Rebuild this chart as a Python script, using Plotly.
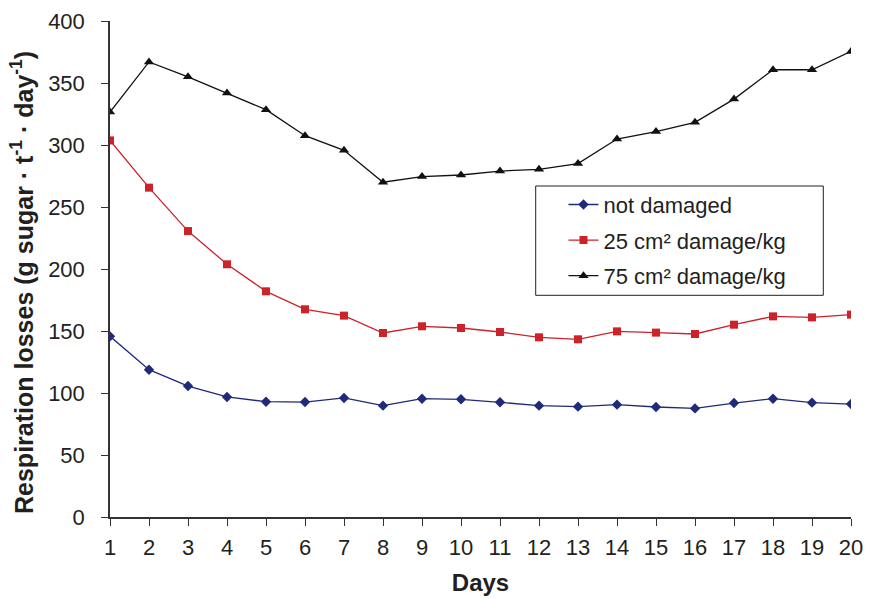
import plotly.graph_objects as go

# Data
days = list(range(1, 21))
not_damaged = [145.7, 118.8, 105.6, 96.8, 93.0, 92.7, 96.0, 89.8, 95.4, 94.9,
               92.5, 89.8, 89.0, 90.6, 88.7, 87.6, 91.9, 95.4, 92.2, 91.1]
damage_25 = [303.7, 265.6, 230.6, 203.8, 182.0, 167.5, 162.4, 148.4, 153.8, 152.4,
             149.2, 144.9, 143.3, 149.7, 148.7, 147.6, 155.1, 161.8, 161.0, 163.2]
damage_75 = [326.6, 367.0, 355.0, 342.0, 328.5, 307.5, 295.7, 270.0, 274.5, 275.8,
             279.0, 280.4, 285.0, 304.8, 310.8, 318.3, 337.0, 360.7, 360.7, 375.5]
y_ticks = [0, 50, 100, 150, 200, 250, 300, 350, 400]

font_family = "Liberation Sans, Arial, sans-serif"
text_color = "#231f20"

fig_w, fig_h = 869, 599
left, top, plot_w, plot_h = 110, 21, 741, 496

fig = go.Figure()

fig.add_trace(go.Scatter(
    x=days, y=not_damaged, name="not damaged", mode="lines+markers",
    line=dict(color="#1f2a7a", width=1.3),
    marker=dict(symbol="diamond", size=8, color="#1f2a7a"),
    legendgroup="a"
))
fig.add_trace(go.Scatter(
    x=days, y=damage_25, name="25 cm² damage/kg", mode="lines+markers",
    line=dict(color="#cc2229", width=1.3),
    marker=dict(symbol="square", size=8, color="#cc2229"),
    legendgroup="b"
))
fig.add_trace(go.Scatter(
    x=days, y=damage_75, name="75 cm² damage/kg", mode="lines+markers",
    line=dict(color="#111111", width=1.3),
    marker=dict(symbol="triangle-up", size=9, color="#111111"),
    legendgroup="c"
))

fig.update_layout(
    width=fig_w, height=fig_h,
    margin=dict(l=left, r=fig_w - left - plot_w, t=top, b=fig_h - top - plot_h),
    paper_bgcolor="white", plot_bgcolor="white",
    font=dict(family=font_family, size=22, color=text_color),
    showlegend=True,
    legend=dict(
        x=0.612, y=0.672, xanchor="left", yanchor="top",
        bgcolor="rgba(0,0,0,0)", borderwidth=0,
        traceorder="grouped", tracegroupgap=4,
        font=dict(size=22, color=text_color)
    ),
    shapes=[dict(
        type="rect", xref="paper", yref="paper",
        x0=(535.7 - left) / plot_w, x1=(823.3 - left) / plot_w,
        y0=(517 - 295.3) / plot_h, y1=(517 - 186) / plot_h,
        line=dict(color="#231f20", width=1), fillcolor="white", layer="below"
    )],
    annotations=[dict(
        text="Respiration losses (g sugar · t<sup>-1</sup> · day<sup>-1</sup>)",
        textangle=-90, xref="paper", yref="paper",
        x=0, y=(517 - 283) / plot_h, xanchor="center", yanchor="middle",
        xshift=-88, showarrow=False,
        font=dict(size=25, color=text_color, family=font_family, weight="bold")
    )]
)

fig.update_xaxes(
    range=[1, 20], tickmode="array", tickvals=days, automargin=False,
    ticks="outside", ticklen=7, tickwidth=1.3, tickcolor="#333333",
    showline=True, linecolor="#333333", linewidth=1.5,
    showgrid=False, zeroline=False, ticklabelstandoff=3,
    title=dict(text="<b>Days</b>", font=dict(size=24), standoff=15)
)
fig.update_yaxes(
    range=[0, 400], tickmode="array", tickvals=y_ticks, automargin=False,
    ticks="outside", ticklen=7, tickwidth=1.3, tickcolor="#333333",
    showline=True, linecolor="#333333", linewidth=1.5,
    showgrid=False, zeroline=False, ticklabelstandoff=12
)

# drop the default 8px body margin so the figure fills the window exactly
fig.write_html("out.html", config={"displayModeBar": False},
               post_script="document.body.style.margin = '0';")
